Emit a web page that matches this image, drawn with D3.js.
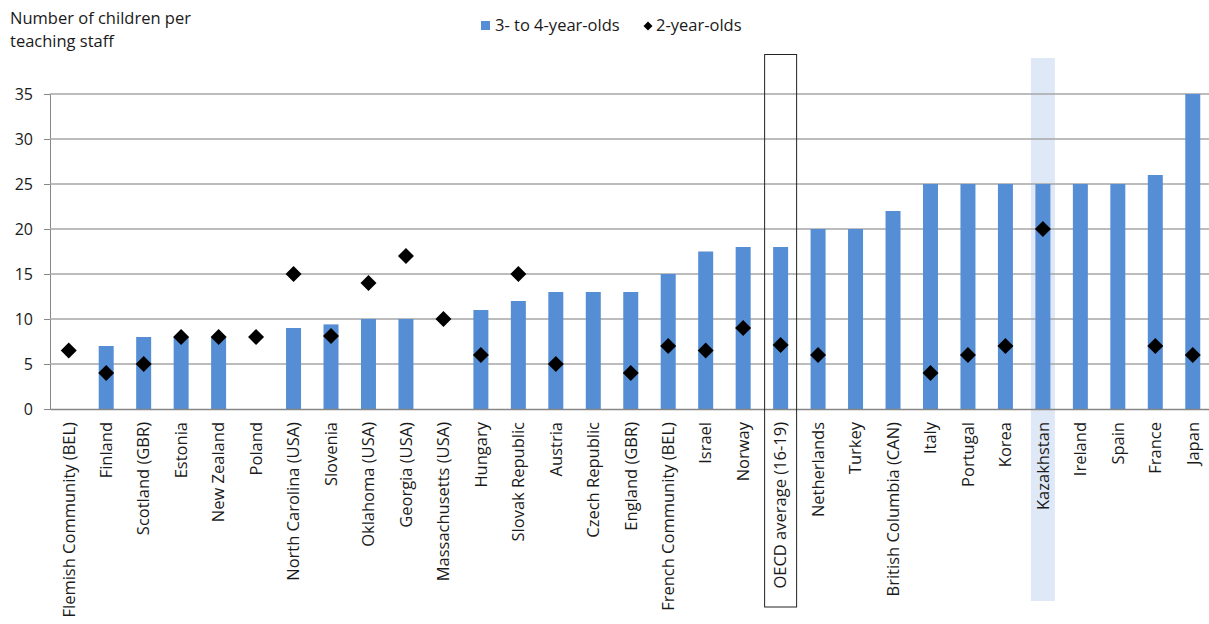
<!DOCTYPE html>
<html>
<head>
<meta charset="utf-8">
<script src="https://cdn.jsdelivr.net/npm/d3@7"></script>
<style>
  html, body { margin: 0; padding: 0; background: #fff; }
  svg { display: block; font-family: "Open Sans", sans-serif; }
</style>
</head>
<body>
<svg id="chart" width="1209" height="624"></svg>
<script>
// categories in chart order
const categories = [
  "Flemish Community (BEL)", "Finland", "Scotland (GBR)", "Estonia", "New Zealand",
  "Poland", "North Carolina (USA)", "Slovenia", "Oklahoma (USA)", "Georgia (USA)",
  "Massachusetts (USA)", "Hungary", "Slovak Republic", "Austria", "Czech Republic",
  "England (GBR)", "French Community (BEL)", "Israel", "Norway", "OECD average (16-19)",
  "Netherlands", "Turkey", "British Columbia (CAN)", "Italy", "Portugal",
  "Korea", "Kazakhstan", "Ireland", "Spain", "France", "Japan"
];

// 3- to 4-year-olds (bars), null = no data
const age3to4 = [
  null, 7, 8, 8, 8,
  null, 9, 9.4, 10, 10,
  null, 11, 12, 13, 13,
  13, 15, 17.5, 18, 18,
  20, 20, 22, 25, 25,
  25, 25, 25, 25, 26, 35
];

// 2-year-olds (diamonds), null = no data
const age2 = [
  6.5, 4, 5, 8, 8,
  8, 15, 8.1, 14, 17,
  10, 6, 15, 5, null,
  4, 7, 6.5, 9, 7.1,
  6, null, null, 4, 6,
  7, 20, null, null, 7, 6
];

const yTicks = [0, 5, 10, 15, 20, 25, 30, 35];
const highlighted = "Kazakhstan";
const averageLabel = "OECD average (16-19)";

const barColor = "#558ed5";
const textColor = "#1a1a1a";
const data = categories.map((c, i) => ({ name: c, bar: age3to4[i], dot: age2[i] }));

const svg = d3.select("#chart");

const x = d3.scaleBand().domain(categories).range([50, 1211.5]).padding(0);
const y = d3.scaleLinear().domain([0, 35]).range([409, 94]);
const bw = x.bandwidth() * 0.4;

// highlight band behind the grid
svg.append("rect")
  .attr("x", x(highlighted) + x.bandwidth() / 2 - 12)
  .attr("y", 58)
  .attr("width", 24)
  .attr("height", 601 - 58)
  .attr("fill", "#dfe8f6");

// gridlines + y axis
const yAxis = svg.append("g")
  .attr("transform", "translate(50,0)")
  .call(d3.axisLeft(y).tickValues(yTicks).tickSize(6).tickPadding(11));
yAxis.select(".domain").attr("stroke", "#868686");
yAxis.selectAll(".tick line").attr("stroke", "#868686");
yAxis.selectAll(".tick text")
  .attr("font-size", 16)
  .attr("fill", textColor)
  .attr("font-family", "Open Sans, sans-serif");

svg.append("g")
  .selectAll("line")
  .data(yTicks.filter(t => t > 0))
  .join("line")
  .attr("x1", 50)
  .attr("x2", 1211)
  .attr("y1", d => y(d))
  .attr("y2", d => y(d))
  .attr("stroke", "#a6a6a6")
  .attr("stroke-width", 1.5);

// bars
svg.append("g")
  .selectAll("rect")
  .data(data.filter(d => d.bar != null))
  .join("rect")
  .attr("x", d => x(d.name) + x.bandwidth() / 2 - bw / 2)
  .attr("y", d => y(d.bar))
  .attr("width", bw)
  .attr("height", d => y(0) - y(d.bar))
  .attr("fill", barColor);

// x axis, labels rotated
const xAxis = svg.append("g")
  .attr("transform", `translate(0,${y(0)})`)
  .call(d3.axisBottom(x).tickSize(0).tickSizeOuter(0));
xAxis.select(".domain").attr("stroke", "#868686").attr("stroke-width", 1.5);
xAxis.selectAll(".tick text")
  .attr("font-size", 16.5)
  .attr("fill", textColor)
  .attr("font-family", "Open Sans, sans-serif")
  .attr("text-anchor", "end")
  .attr("dy", "0.35em")
  .attr("transform", "translate(0,13) rotate(-90)")
  .attr("x", 0)
  .attr("y", 0);

// diamonds
const diamond = d3.symbol().type(d3.symbolSquare).size(128);
svg.append("g")
  .selectAll("path")
  .data(data.filter(d => d.dot != null))
  .join("path")
  .attr("d", diamond)
  .attr("transform", d => `translate(${x(d.name) + x.bandwidth() / 2},${y(d.dot)}) rotate(45)`)
  .attr("fill", "#000");

// box around the OECD average
svg.append("rect")
  .attr("x", x(averageLabel) + x.bandwidth() / 2 - 16)
  .attr("y", 54.5)
  .attr("width", 32)
  .attr("height", 607 - 54.5)
  .attr("fill", "none")
  .attr("stroke", "#222")
  .attr("stroke-width", 1);

// y title
const title = svg.append("text")
  .attr("font-size", 16.5)
  .attr("fill", textColor);
title.append("tspan").attr("x", 10).attr("y", 24).text("Number of children per");
title.append("tspan").attr("x", 10).attr("y", 47).text("teaching staff");

// legend
const legend = svg.append("g").attr("font-size", 16.5).attr("fill", textColor);
legend.append("rect")
  .attr("x", 481).attr("y", 21).attr("width", 9).attr("height", 9)
  .attr("fill", barColor);
legend.append("text").attr("x", 495).attr("y", 31).text("3- to 4-year-olds");
legend.append("path")
  .attr("d", d3.symbol().type(d3.symbolSquare).size(40))
  .attr("transform", "translate(648,26) rotate(45)")
  .attr("fill", "#000");
legend.append("text").attr("x", 656).attr("y", 31).text("2-year-olds");
</script>
</body>
</html>
